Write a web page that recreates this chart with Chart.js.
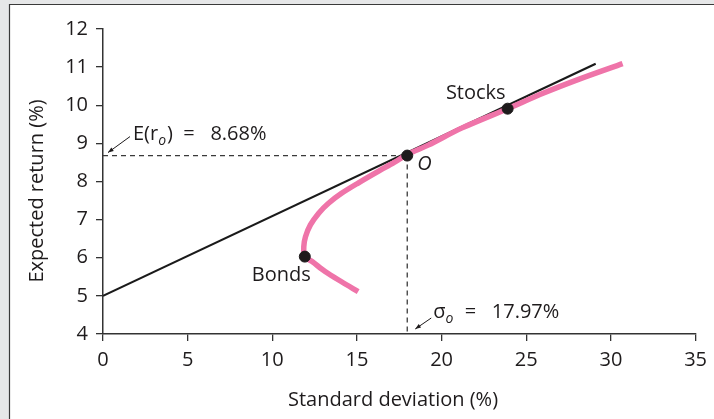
<!DOCTYPE html>
<html>
<head>
<meta charset="utf-8">
<script src="https://cdn.jsdelivr.net/npm/chart.js@4.4.0/dist/chart.umd.min.js"></script>
<style>
  html, body { margin: 0; padding: 0; background: #e6e7e8; }
  #wrap { position: absolute; left: 0; top: 0; width: 714px; height: 419px; }
</style>
</head>
<body>
<div id="wrap"><canvas id="chart" width="714" height="419"></canvas></div>
<script>
// values
const frontierSd  = [15.07, 14.09, 13.12, 12.35, 11.92, 11.86, 11.96, 12.25, 12.74, 13.32, 14.09, 15.07, 16.23, 17.2, 17.98, 19.24, 21.18, 23.9, 26.03, 28.17, 30.69];
const frontierRet = [5.11, 5.37, 5.64, 5.9, 6.03, 6.29, 6.55, 6.86, 7.17, 7.43, 7.69, 7.96, 8.26, 8.5, 8.71, 8.96, 9.4, 9.91, 10.32, 10.69, 11.09];
const calSd  = [0, 29.1];
const calRet = [5.0, 11.09];
const pointNames = ['Bonds', 'O', 'Stocks'];
const pointSd  = [11.92, 17.97, 23.9];
const pointRet = [6.03, 8.68, 9.91];
const optSd = 17.97;
const optRet = 8.68;
const xTicks = [0, 5, 10, 15, 20, 25, 30, 35];
const yTicks = [4, 5, 6, 7, 8, 9, 10, 11, 12];

const INK = '#1e1b1c';
const PINK = '#ef74a9';
const FONT = '"Open Sans", "DejaVu Sans", sans-serif';

const zip = (xs, ys) => xs.map((x, i) => ({x, y: ys[i]}));

// gray page edge + white panel behind the plot
const panelBg = {
  id: 'panelBg',
  beforeDraw(chart) {
    const ctx = chart.ctx;
    ctx.save();
    ctx.fillStyle = '#e6e7e8';
    ctx.fillRect(0, 0, chart.width, chart.height);
    ctx.fillStyle = '#ffffff';
    ctx.fillRect(9, 4, chart.width - 9, chart.height - 4);
    ctx.strokeStyle = '#3a3a3a';
    ctx.lineWidth = 1.2;
    ctx.beginPath();
    ctx.moveTo(9.5, chart.height);
    ctx.lineTo(9.5, 4.5);
    ctx.lineTo(chart.width, 4.5);
    ctx.stroke();
    ctx.restore();
  }
};

function arrow(ctx, x1, y1, x2, y2) {
  // line from (x1,y1) to head at (x2,y2)
  const a = Math.atan2(y2 - y1, x2 - x1);
  ctx.beginPath();
  ctx.moveTo(x1, y1);
  ctx.lineTo(x2, y2);
  ctx.stroke();
  ctx.beginPath();
  ctx.moveTo(x2, y2);
  ctx.lineTo(x2 - 6 * Math.cos(a - 0.35), y2 - 6 * Math.sin(a - 0.35));
  ctx.lineTo(x2 - 6 * Math.cos(a + 0.35), y2 - 6 * Math.sin(a + 0.35));
  ctx.closePath();
  ctx.fill();
}

// labels, arrows and axis titles
const labels = {
  id: 'labels',
  afterDraw(chart) {
    const ctx = chart.ctx;
    const xs = chart.scales.x, ys = chart.scales.y;
    ctx.save();
    ctx.fillStyle = INK;
    ctx.strokeStyle = INK;
    ctx.lineWidth = 1;
    ctx.textBaseline = 'middle';
    const big = '20px ' + FONT;
    const sub = 'italic 14px ' + FONT;

    // point names
    ctx.font = big;
    ctx.textAlign = 'right';
    ctx.fillText('Stocks', xs.getPixelForValue(pointSd[2]) - 2, ys.getPixelForValue(pointRet[2]) - 15);
    ctx.fillText('Bonds', xs.getPixelForValue(pointSd[0]) + 6, ys.getPixelForValue(pointRet[0]) + 19);
    ctx.textAlign = 'left';
    ctx.font = 'italic 20px ' + FONT;
    ctx.fillText('O', xs.getPixelForValue(optSd) + 10, ys.getPixelForValue(optRet) + 9);

    // E(r_o) label
    let x0 = xs.getPixelForValue(0), y0 = ys.getPixelForValue(optRet);
    arrow(ctx, x0 + 27, y0 - 19, x0 + 5, y0 - 3);
    let tx = x0 + 30, ty = y0 - 21;
    ctx.font = big;
    ctx.fillText('E(r', tx, ty);
    tx += ctx.measureText('E(r').width;
    ctx.font = sub;
    ctx.fillText('o', tx, ty + 6);
    tx += ctx.measureText('o').width + 1;
    ctx.font = big;
    ctx.fillText(')  =   8.68%', tx, ty);

    // sigma_o label
    x0 = xs.getPixelForValue(optSd); y0 = ys.getPixelForValue(4);
    arrow(ctx, x0 + 24, y0 - 16, x0 + 8, y0 - 5);
    tx = x0 + 26; ty = y0 - 22;
    ctx.font = big;
    ctx.fillText('σ', tx, ty);
    tx += ctx.measureText('σ').width;
    ctx.font = sub;
    ctx.fillText('o', tx, ty + 7);
    tx += ctx.measureText('o').width + 1;
    ctx.font = big;
    ctx.fillText('  =   17.97%', tx, ty);

    // axis titles
    ctx.textAlign = 'center';
    ctx.fillText('Standard deviation (%)', 393, 400);
    ctx.translate(37, 191);
    ctx.rotate(-Math.PI / 2);
    ctx.fillText('Expected return (%)', 0, 0);
    ctx.restore();
  }
};

const axisCommon = {
  type: 'linear',
  grid: { display: true, drawOnChartArea: false, drawTicks: true, tickLength: 7, color: '#333', lineWidth: 1.3 },
  border: { display: true, color: '#333', width: 1.5 },
  title: { display: false }
};

new Chart(document.getElementById('chart'), {
  type: 'scatter',
  data: {
    datasets: [
      {
        label: 'Portfolios',
        data: zip(pointSd, pointRet),
        backgroundColor: INK,
        borderColor: INK,
        pointRadius: 5.5,
        order: 0
      },
      {
        label: 'Frontier',
        data: zip(frontierSd, frontierRet),
        showLine: true,
        borderColor: PINK,
        borderWidth: 5.5,
        tension: 0.3,
        pointRadius: 0,
        order: 1
      },
      {
        label: 'E(ro)',
        data: [{x: 0, y: optRet}, {x: optSd, y: optRet}],
        showLine: true,
        borderColor: '#3a3a3a',
        borderWidth: 1.3,
        borderDash: [5, 4],
        pointRadius: 0,
        order: 2
      },
      {
        label: 'sigma o',
        data: [{x: optSd, y: optRet}, {x: optSd, y: 4}],
        showLine: true,
        borderColor: '#3a3a3a',
        borderWidth: 1.3,
        borderDash: [5, 4],
        pointRadius: 0,
        order: 2
      },
      {
        label: 'CAL',
        data: zip(calSd, calRet),
        showLine: true,
        borderColor: '#1a1a1a',
        borderWidth: 2.2,
        pointRadius: 0,
        order: 3
      }
    ]
  },
  options: {
    responsive: false,
    animation: false,
    events: [],
    layout: { padding: { left: 0, top: 29, right: 10, bottom: 0 } },
    plugins: { legend: { display: false }, tooltip: { enabled: false } },
    scales: {
      x: Object.assign({}, axisCommon, {
        min: 0, max: 35,
        afterBuildTicks: s => { s.ticks = xTicks.map(v => ({value: v})); },
        ticks: { color: INK, font: { size: 20, family: FONT }, padding: 7, maxRotation: 0 },
        afterFit: s => { s.height = 85; }
      }),
      y: Object.assign({}, axisCommon, {
        min: 4, max: 12,
        afterBuildTicks: s => { s.ticks = yTicks.map(v => ({value: v})); },
        ticks: { color: INK, font: { size: 20, family: FONT }, padding: 8 },
        afterFit: s => { s.width = 103; }
      })
    }
  },
  plugins: [panelBg, labels]
});
</script>
</body>
</html>
